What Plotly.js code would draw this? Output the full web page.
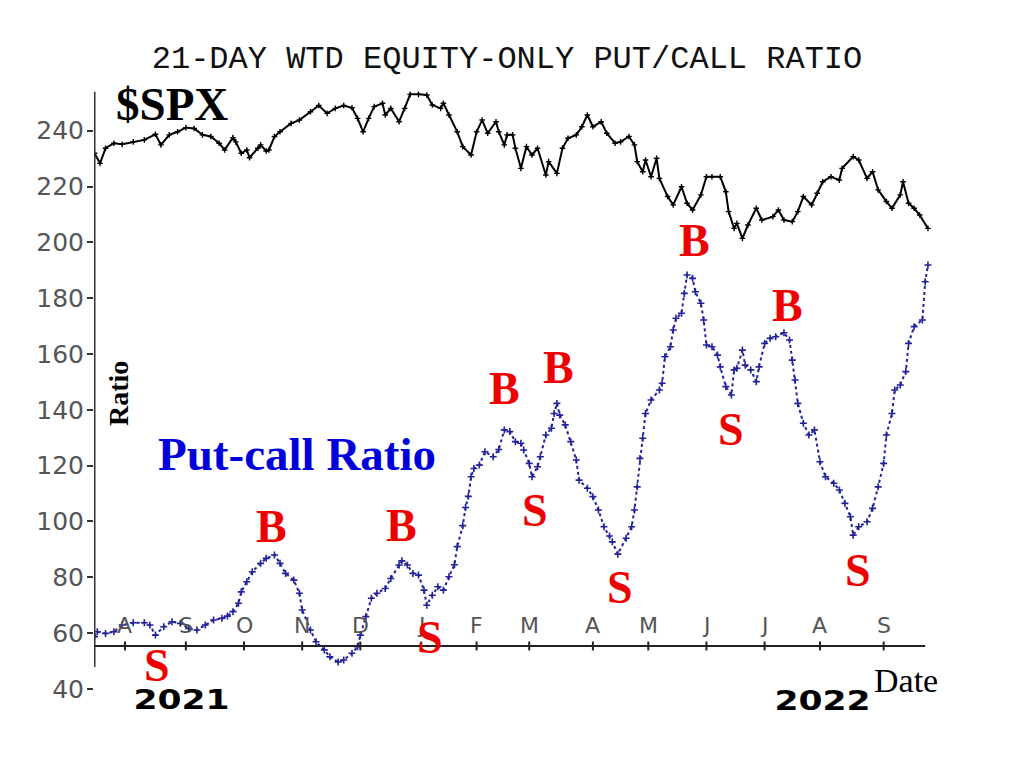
<!DOCTYPE html>
<html>
<head>
<meta charset="utf-8">
<script src="https://cdn.plot.ly/plotly-3.0.1.min.js"></script>
<style>html,body{margin:0;padding:0;background:#fff;}#chart{width:1019px;height:758px;}</style>
</head>
<body>
<div id="chart"></div>
<script>
// ---- data (x = trading-day index from mid-July 2021) ----
const spxDay = [0,2,4,7,10,14,18,22,24,27,30,33,36,39,42,45,47,50,51,53,55,56,59,60,62,63,65,67,71,74,78,81,84,87,90,93,95,97,99,101,104,105,107,110,112,114,117,120,122,125,126,128,131,133,136,138,140,142,145,146,148,149,151,152,154,156,158,160,163,164,167,169,171,174,176,178,180,183,185,188,190,193,195,196,198,199,201,203,204,207,209,212,214,216,219,221,223,226,228,229,231,232,234,236,239,241,245,247,249,252,254,256,259,261,263,266,269,270,274,276,279,281,283,286,288,291,292,294,296,298,301];
const spxVal = [231.9,228.3,233.7,235.5,235.1,236.0,236.7,238.7,234.9,238.5,239.6,241.1,240.8,238.5,237.9,235.5,233.1,237.5,236.0,231.9,233.1,230.3,233.7,234.9,232.7,233.1,237.9,239.6,242.6,243.8,246.8,249.0,246.2,248.0,249.0,248.2,244.4,239.6,244.4,248.6,249.8,245.6,248.0,243.2,248.0,253.0,253.0,252.8,249.2,248.0,249.8,245.6,239.6,234.3,231.3,239.6,243.8,239.1,243.2,239.6,234.9,238.5,238.5,233.7,226.5,234.3,231.3,233.7,224.1,228.9,224.7,233.7,237.3,238.5,241.4,245.6,241.4,243.2,239.1,235.5,236.0,237.9,234.9,228.9,225.3,229.5,223.5,230.1,222.9,216.4,213.4,219.9,214.0,211.6,217.0,223.5,223.5,223.5,218.1,211.0,205.0,206.8,201.4,206.2,212.2,208.0,209.2,211.6,208.0,207.4,211.0,216.4,213.4,217.6,221.7,223.5,222.3,226.5,230.7,229.5,222.9,225.3,218.8,214.6,212.2,217.0,221.7,214.0,212.2,209.8,205.0];

const ratioDay = [0,1,4,7,10,14,18,20,22,25,28,31,34,37,40,43,46,48,50,52,53,55,57,60,62,65,67,69,72,74,75,78,80,83,85,88,90,93,95,96,98,100,102,105,107,110,111,113,115,117,119,120,122,124,126,128,130,131,133,134,135,136,137,139,141,144,146,148,150,152,154,155,157,158,160,161,163,165,166,167,168,170,172,174,175,178,180,182,184,186,187,189,192,194,195,196,197,198,199,201,204,205,206,208,209,210,212,213,214,216,217,219,220,221,223,225,226,228,230,231,232,234,235,237,239,240,242,244,246,249,251,252,253,254,256,258,260,262,264,267,269,271,273,274,276,279,281,283,285,286,288,289,291,293,294,296,299,300,301];
const ratioVal = [58.7,60.5,59.9,60.5,62.9,63.7,63.7,62.9,59.3,62.3,64.1,63.5,61.7,61.1,62.9,64.7,65.3,66.1,67.7,70.7,74.8,78.4,82.0,85.0,86.8,88.0,85.0,81.4,79.0,74.3,68.3,61.1,56.9,54.0,51.5,49.7,50.4,52.8,55.1,59.3,65.9,72.5,74.3,76.0,79.6,84.4,85.9,84.4,81.4,80.8,75.4,70.0,73.6,76.6,75.4,80.2,84.5,91.0,98.5,105.0,109.0,116.0,119.0,120.2,125.0,123.2,125.8,132.8,132.2,128.6,128.0,125.6,120.8,116.0,119.6,123.2,131.0,133.4,138.7,142.3,138.1,134.6,128.6,122.0,114.8,111.9,108.9,104.1,98.1,94.8,92.7,88.3,94.0,98.1,104.1,112.4,122.6,129.8,138.7,143.5,147.1,149.5,159.0,162.6,168.6,172.8,174.6,181.7,188.3,187.1,182.3,178.2,172.2,163.2,162.6,159.6,155.4,148.3,145.3,154.3,154.9,161.4,156.0,154.3,150.1,155.4,163.8,165.6,166.2,167.6,165.0,157.8,150.7,142.3,135.2,131.0,132.8,121.4,116.0,113.7,111.3,106.5,101.7,95.1,98.1,99.9,104.7,112.4,120.8,131.0,138.7,147.1,148.9,153.7,163.8,169.8,172.2,185.9,191.9];

const monthTickDay = [11,33,54,75,96,118,138,157,180,200,221,242,262,285];
const monthTickLabel = ['A','S','O','N','D','J','F','M','A','M','J','J','A','S'];
const yTickVals = [40,60,80,100,120,140,160,180,200,220,240];
const yTickText = ['40','60','80','100','120','140','160','180','200','220','240'];

const signalLabel = ['B','B','B','B','B','B','S','S','S','S','S','S','S'];
const signalDay   = [64,110.9,148,167.5,216.6,250.3,22.6,89.4,121.2,159.1,229.9,189.8,275.7];
const signalLevel = [98.1,98.7,147.5,155,200.7,177.3,48.4,36.4,58.4,104.1,132.8,76.5,82.5];

const yearLabel = ['2021','2022'];

// ---- layout geometry ----
const W = 1019, H = 758;
const M = {l:94, r:79, t:86, b:64};
const pw = W - M.l - M.r, ph = H - M.t - M.b;
const px = x => (x - M.l) / pw;
const py = y => (H - M.b - y) / ph;

const axisLineLevel = 55.4;
const serif = 'Liberation Serif, Times New Roman, serif';

const annotations = [];
monthTickDay.forEach((d, i) => annotations.push({
  x: d, y: 62.9, xref: 'x', yref: 'y', text: monthTickLabel[i], showarrow: false,
  xanchor: 'center', yanchor: 'middle',
  font: {family: 'DejaVu Sans', size: 22, color: '#555'}
}));
signalLabel.forEach((t, i) => annotations.push({
  x: signalDay[i], y: signalLevel[i], xref: 'x', yref: 'y', text: t, showarrow: false,
  xanchor: 'center', yanchor: 'middle',
  font: {family: serif, size: 46, color: '#ee0000', weight: 'bold'}
}));
annotations.push(
  {x: px(171.7), y: py(104), xref: 'paper', yref: 'paper', text: '$SPX', showarrow: false,
   xanchor: 'center', yanchor: 'middle', font: {family: serif, size: 47, color: '#000', weight: 'bold'}},
  {x: px(296.7), y: py(454), xref: 'paper', yref: 'paper', text: 'Put-call Ratio', showarrow: false,
   xanchor: 'center', yanchor: 'middle', font: {family: serif, size: 47, color: '#0000dd', weight: 'bold'}},
  {x: px(118), y: py(394), xref: 'paper', yref: 'paper', text: 'Ratio', showarrow: false, textangle: -90,
   xanchor: 'center', yanchor: 'middle', font: {family: serif, size: 28, color: '#000', weight: 'bold'}},
  {x: px(906), y: py(680), xref: 'paper', yref: 'paper', text: 'Date', showarrow: false,
   xanchor: 'center', yanchor: 'middle', font: {family: serif, size: 34, color: '#000'}},
  {x: px(181.5), y: py(699), xref: 'paper', yref: 'paper', text: yearLabel[0], showarrow: false,
   xanchor: 'center', yanchor: 'middle', font: {family: 'DejaVu Sans', size: 27, color: '#000', weight: 'bold'}},
  {x: px(822), y: py(700), xref: 'paper', yref: 'paper', text: yearLabel[1], showarrow: false,
   xanchor: 'center', yanchor: 'middle', font: {family: 'DejaVu Sans', size: 27, color: '#000', weight: 'bold'}}
);

const shapes = [
  {type: 'line', xref: 'x', yref: 'y', x0: 0, x1: 0, y0: 47.9, y1: 253.9, line: {color: '#333', width: 2}},
  {type: 'line', xref: 'x', yref: 'y', x0: 0, x1: 300, y0: axisLineLevel, y1: axisLineLevel, line: {color: '#222', width: 2}}
];
monthTickDay.forEach(d => shapes.push({
  type: 'line', xref: 'x', yref: 'y', x0: d, x1: d, y0: axisLineLevel - 1.6, y1: axisLineLevel + 1.6,
  line: {color: '#222', width: 2}
}));

const traces = [
  {x: spxDay, y: spxVal, type: 'scatter', mode: 'lines+markers', name: '$SPX',
   line: {color: '#000', width: 2},
   marker: {symbol: 'cross-thin', size: 4, line: {color: '#000', width: 1.4}, color: '#000'}},
  {x: ratioDay, y: ratioVal, type: 'scatter', mode: 'lines+markers', name: 'Put-call Ratio',
   line: {color: '#22229a', width: 2, dash: 'dot'},
   marker: {symbol: 'cross-thin', size: 5, line: {color: '#22229a', width: 1.6}, color: '#22229a'}}
];

const layout = {
  width: W, height: H,
  margin: M,
  paper_bgcolor: '#fff', plot_bgcolor: '#fff',
  showlegend: false,
  title: {text: '21-DAY WTD EQUITY-ONLY PUT/CALL RATIO', x: 507 / W, xref: 'container', xanchor: 'center',
          y: 1 - 57 / H, yref: 'container', yanchor: 'middle',
          font: {family: 'Liberation Mono, Courier New, monospace', size: 32, color: '#111'}},
  xaxis: {range: [-0.18, 305.35], visible: false, fixedrange: true},
  yaxis: {range: [38.2, 256], tickmode: 'array', tickvals: yTickVals, ticktext: yTickText,
          ticks: 'outside', ticklen: 6, tickwidth: 2, tickcolor: '#333',
          showline: false, showgrid: false, zeroline: false, ticklabelstandoff: -2,
          tickfont: {family: 'DejaVu Sans', size: 25, color: '#555'}},
  annotations: annotations,
  shapes: shapes
};

Plotly.newPlot('chart', traces, layout, {staticPlot: true, displayModeBar: false}).then(gd => {
  // widen the year labels to match the wide bitmap font of the original
  gd.querySelectorAll('.annotation-text').forEach(el => {
    if (yearLabel.indexOf(el.textContent) >= 0) {
      el.setAttribute('textLength', '96');
      el.setAttribute('lengthAdjust', 'spacingAndGlyphs');
    }
  });
});
</script>
</body>
</html>
